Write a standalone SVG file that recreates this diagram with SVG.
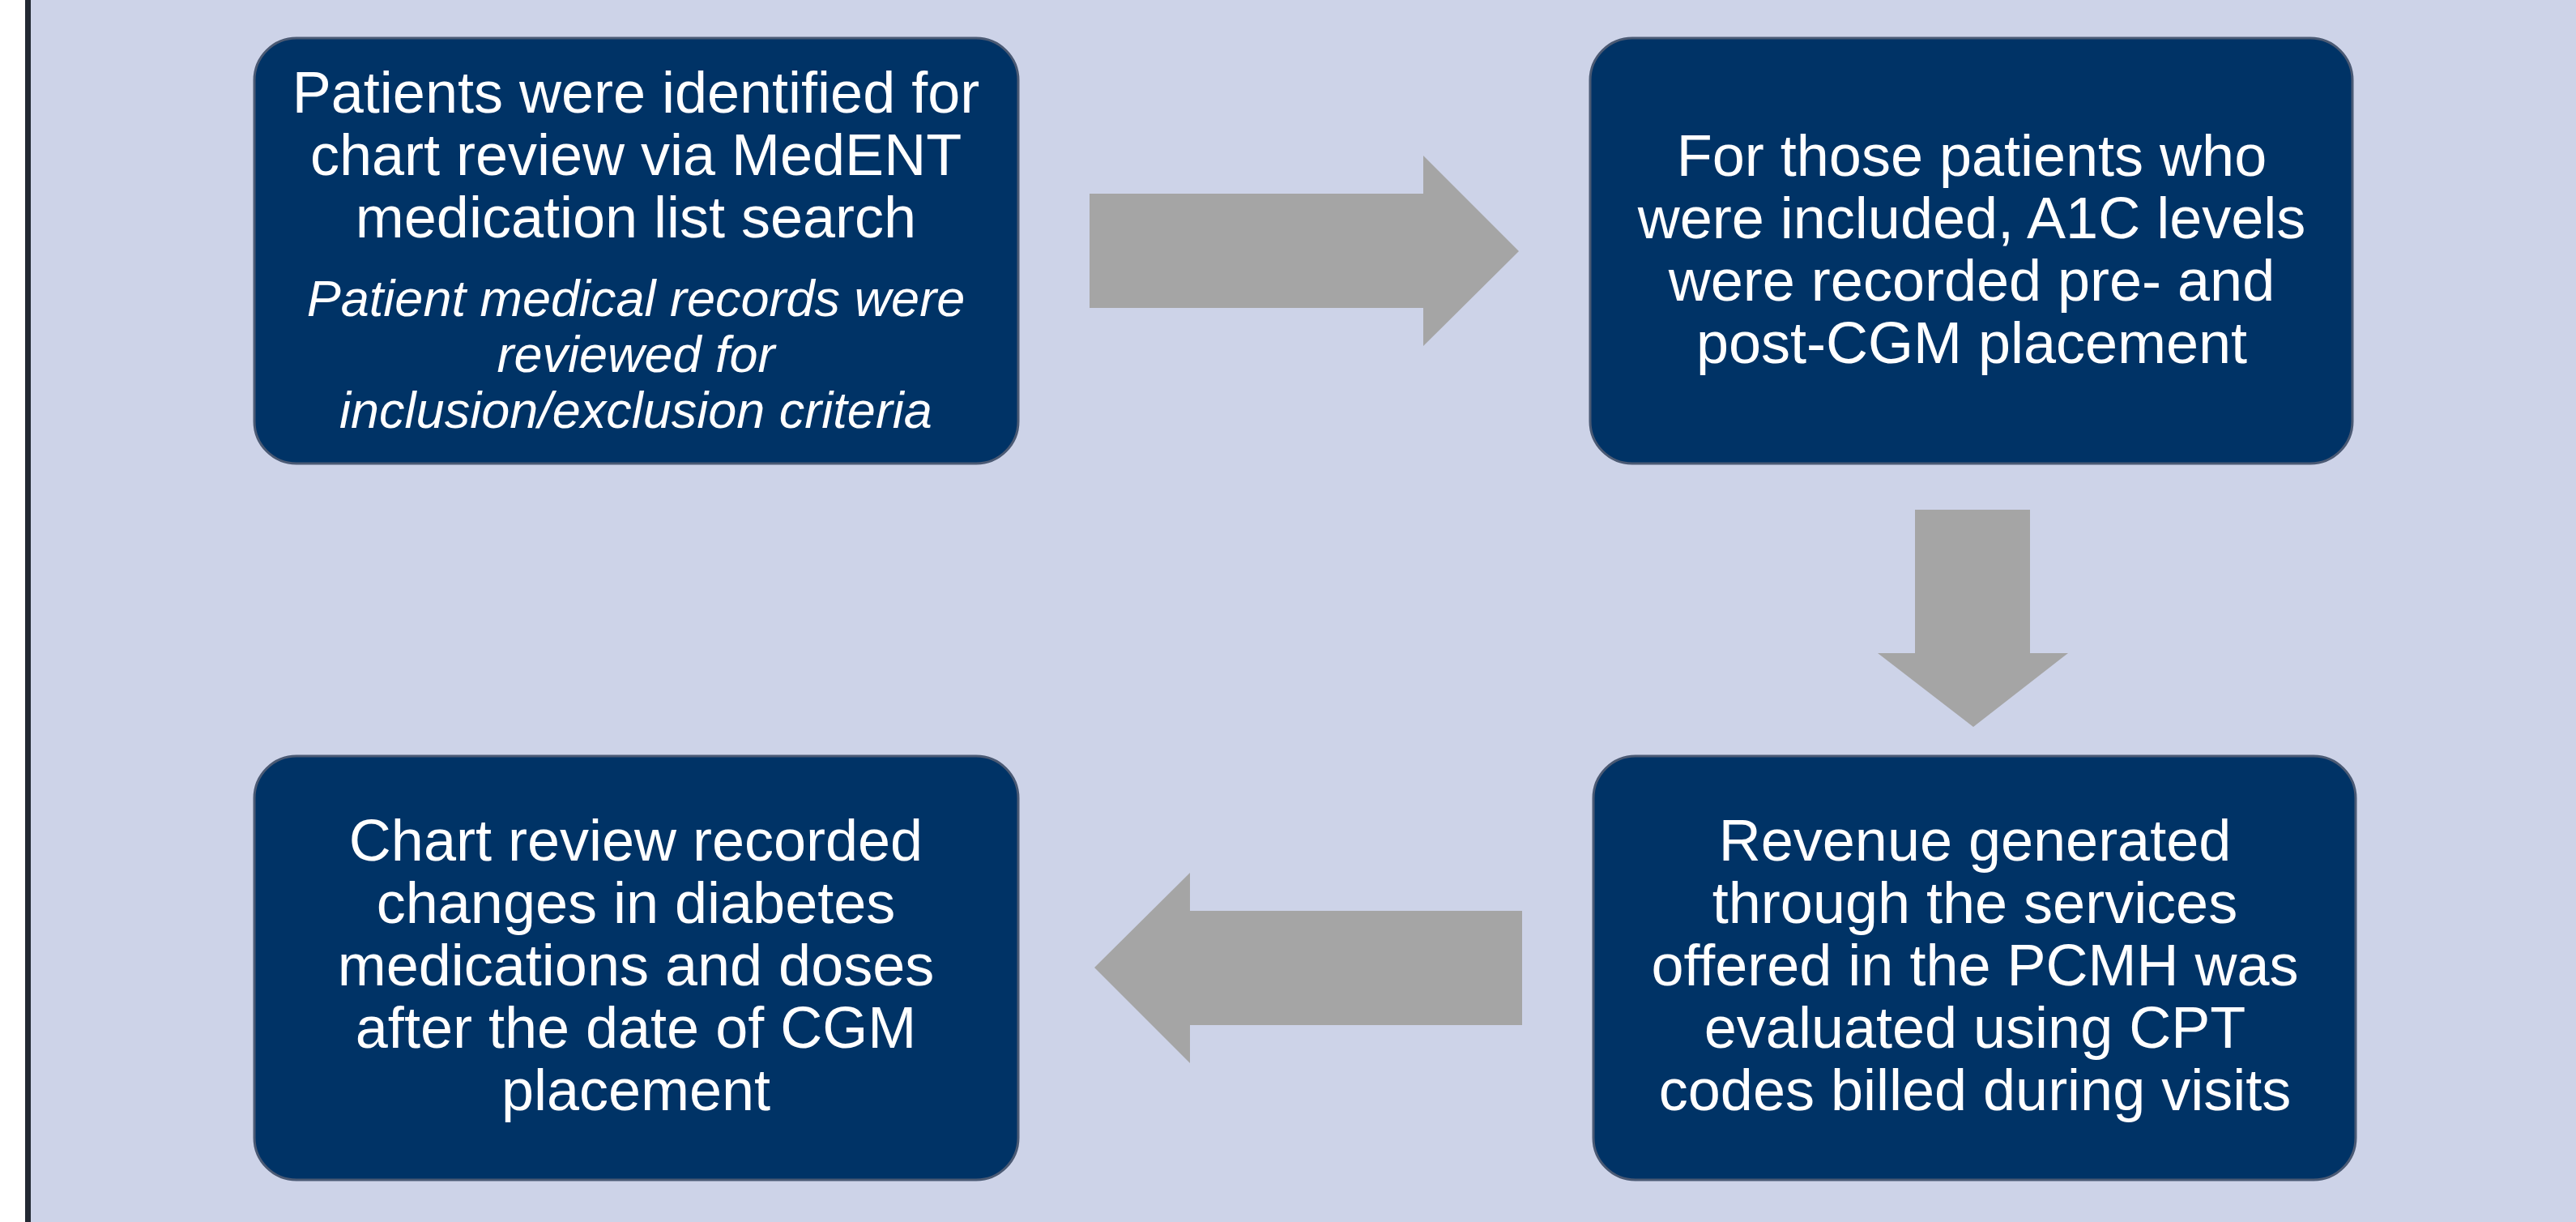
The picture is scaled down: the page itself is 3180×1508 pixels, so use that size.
<svg xmlns="http://www.w3.org/2000/svg" width="3180" height="1508" viewBox="0 0 3180 1508">
  <style>
    .step { fill: #003366; stroke: #4b5a74; stroke-width: 3; }
    .label { font-family: "Liberation Sans", Arial, sans-serif; font-size: 72px; fill: #ffffff; text-anchor: middle; }
    .note { font-family: "Liberation Sans", Arial, sans-serif; font-size: 63px; font-style: italic; fill: #ffffff; text-anchor: middle; }
    .flow { fill: #a5a5a5; }
  </style>

  <!-- page background and left rule -->
  <rect x="0" y="0" width="3180" height="1508" fill="#ffffff"/>
  <rect x="38" y="0" width="3142" height="1508" fill="#cdd3e8"/>
  <rect x="31" y="0" width="7" height="1508" fill="#232933"/>

  <!-- step 1 -->
  <g id="node-identify">
    <rect class="step" x="314" y="47" width="943" height="525" rx="52" ry="52"/>
    <text class="label" x="785" y="139">Patients were identified for</text>
    <text class="label" x="785" y="216">chart review via MedENT</text>
    <text class="label" x="785" y="293">medication list search</text>
    <text class="note" x="785" y="390">Patient medical records were</text>
    <text class="note" x="785" y="459">reviewed for</text>
    <text class="note" x="785" y="528">inclusion/exclusion criteria</text>
  </g>

  <!-- step 2 -->
  <g id="node-a1c">
    <rect class="step" x="1963" y="47" width="941" height="525" rx="52" ry="52"/>
    <text class="label" x="2434" y="217">For those patients who</text>
    <text class="label" x="2434" y="294">were included, A1C levels</text>
    <text class="label" x="2434" y="371">were recorded pre- and</text>
    <text class="label" x="2434" y="448">post-CGM placement</text>
  </g>

  <!-- step 3 -->
  <g id="node-revenue">
    <rect class="step" x="1967" y="933" width="941" height="523" rx="52" ry="52"/>
    <text class="label" x="2438" y="1062">Revenue generated</text>
    <text class="label" x="2438" y="1139">through the services</text>
    <text class="label" x="2438" y="1216">offered in the PCMH was</text>
    <text class="label" x="2438" y="1293">evaluated using CPT</text>
    <text class="label" x="2438" y="1370">codes billed during visits</text>
  </g>

  <!-- step 4 -->
  <g id="node-medications">
    <rect class="step" x="314" y="933" width="943" height="523" rx="52" ry="52"/>
    <text class="label" x="785" y="1062">Chart review recorded</text>
    <text class="label" x="785" y="1139">changes in diabetes</text>
    <text class="label" x="785" y="1216">medications and doses</text>
    <text class="label" x="785" y="1293">after the date of CGM</text>
    <text class="label" x="785" y="1370">placement</text>
  </g>

  <!-- block arrows between steps -->
  <g id="connectors">
    <polygon class="flow" points="1345,239 1757,239 1757,192 1875,310 1757,427 1757,380 1345,380"/>
    <polygon class="flow" points="2364,629 2506,629 2506,806 2553,806 2436,897 2318,806 2364,806"/>
    <polygon class="flow" points="1879,1124 1469,1124 1469,1077 1351,1194 1469,1312 1469,1265 1879,1265"/>
  </g>
</svg>
